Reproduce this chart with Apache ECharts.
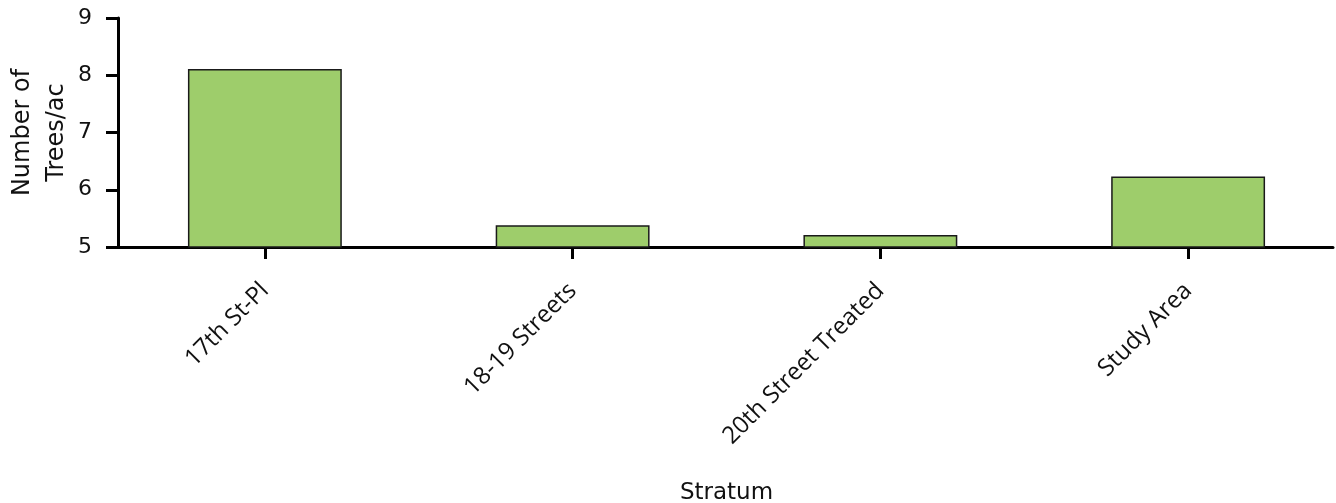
<!DOCTYPE html>
<html>
<head>
<meta charset="utf-8">
<script src="https://cdn.jsdelivr.net/npm/echarts@6/dist/echarts.min.js"></script>
<style>
html,body{margin:0;padding:0;background:#fff;}
#chart{width:1336px;height:503px;}
</style>
</head>
<body>
<div id="chart"></div>
<script>
const categories = ["17th St-Pl", "18-19 Streets", "20th Street Treated", "Study Area"];
const treesPerAcre = [8.11, 5.38, 5.21, 6.23];
const yTicks = [5, 6, 7, 8, 9];
const yName = "Number of\nTrees/ac";
const xName = "Stratum";

const chart = echarts.init(document.getElementById('chart'));
const yMin = yTicks[0], yMax = yTicks[yTicks.length - 1];
chart.setOption({
  animation: false,
  backgroundColor: '#ffffff',
  grid: [
    {left: 111, width: 1231, top: 18, bottom: 256, containLabel: false, outerBoundsMode: 'none'},
    {left: 118, width: 1215, top: 18, bottom: 256, containLabel: false, outerBoundsMode: 'none'}
  ],
  xAxis: [
    {
      type: 'category', gridIndex: 0, data: categories,
      boundaryGap: true,
      axisLine: {show: false},
      axisTick: {show: true, alignWithLabel: true, length: 12, lineStyle: {color: '#000', width: 3}},
      axisLabel: {
        rotate: 45, margin: 40, interval: 0,
        fontFamily: 'Open Sans', fontSize: 24, color: '#111'
      },
      name: xName, nameLocation: 'middle', nameGap: 235,
      nameTextStyle: {fontFamily: 'DejaVu Sans', fontSize: 23, color: '#111'}
    },
    {
      type: 'category', gridIndex: 1, data: categories,
      axisLine: {show: true, lineStyle: {color: '#000', width: 3}},
      axisTick: {show: false}, axisLabel: {show: false}
    }
  ],
  yAxis: [
    {
      type: 'value', gridIndex: 0, min: yMin, max: yMax, interval: 1,
      show: false, splitLine: {show: false}
    },
    {
      type: 'value', gridIndex: 1, min: yMin, max: yMax, interval: 1,
      axisLine: {show: true, lineStyle: {color: '#000', width: 3}},
      axisTick: {show: true, length: 12, lineStyle: {color: '#000', width: 3}},
      axisLabel: {
        margin: 26, fontFamily: 'DejaVu Sans', fontSize: 22, color: '#111',
        formatter: v => yTicks.includes(v) ? String(v) : ''
      },
      splitLine: {show: false},
      name: yName, nameLocation: 'middle', nameRotate: 90, nameGap: 44,
      nameMoveOverlap: false,
      nameTextStyle: {fontFamily: 'DejaVu Sans', fontSize: 24, color: '#111', lineHeight: 34, align: 'center'}
    }
  ],
  series: [{
    type: 'bar', xAxisIndex: 0, yAxisIndex: 0,
    data: treesPerAcre,
    barWidth: '50%',
    itemStyle: {color: '#9ecd6b', borderColor: '#1a1a1a', borderWidth: 1.5}
  }]
});
</script>
</body>
</html>
